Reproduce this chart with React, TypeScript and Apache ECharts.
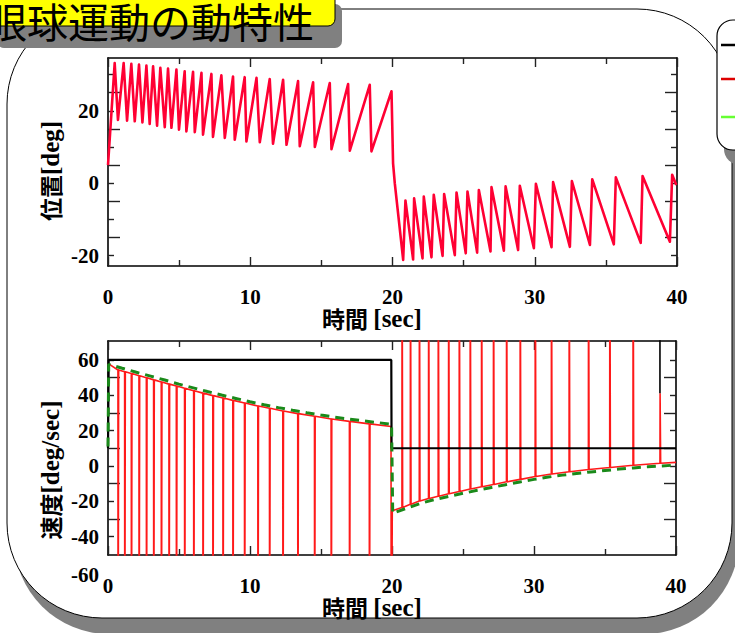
import React, { useEffect, useRef } from "react";
import * as echarts from "echarts";

const SERIF = '"Liberation Serif", "Times New Roman", serif';
const CJK = '"Noto Sans CJK JP", "Noto Sans", sans-serif';

// time axis [sec]
const TIME_MIN = 0;
const TIME_MAX = 40;
const TIME_STEP = 10;

// position axis [deg]
const POS_MIN = -22.9;
const POS_MAX = 34.6;
const POS_LABELS = [-20, 0, 20];
const POS_TICKS_SHORT = [-20, -10, 0, 10, 20, 30];
const POS_TICKS_LONG = [-15, -5, 5, 15, 25];

// velocity axis [deg/sec]
const VEL_MIN = -50.4;
const VEL_MAX = 70.7;
const VEL_LABELS = [-40, -20, 0, 20, 40, 60];
const VEL_TICKS_SHORT = [-40, -20, 0, 20, 40, 60];
const VEL_TICKS_LONG = [-30, -10, 10, 30, 50];
const VEL_EXTRA_LABEL = -60;

// 位置: slow climb, quick reset at the upper stop (0-20 s)
const posUpper: [number, number][] = [
  [0, 5.0],
  [0.47, 33.2], [0.70, 17.5],
  [1.10, 33.2], [1.34, 17.3],
  [1.64, 33.0], [1.88, 17.1],
  [2.18, 32.8], [2.42, 16.8],
  [2.70, 32.5], [2.93, 16.4],
  [3.17, 32.3], [3.45, 15.9],
  [3.68, 31.9], [3.99, 15.5],
  [4.22, 31.7], [4.46, 15.3],
  [4.81, 31.4], [4.99, 14.8],
  [5.39, 30.9], [5.51, 14.3],
  [5.98, 30.8], [6.10, 14.1],
  [6.57, 30.5], [6.68, 13.4],
  [7.27, 30.2], [7.38, 12.8],
  [7.97, 29.8], [8.21, 12.5],
  [8.79, 29.5], [8.91, 12.0],
  [9.61, 29.3], [9.73, 11.5],
  [10.44, 29.1], [10.67, 11.3],
  [11.37, 28.8], [11.60, 10.9],
  [12.31, 28.6], [12.55, 10.6],
  [13.36, 28.2], [13.48, 10.2],
  [14.42, 27.9], [14.54, 10.0],
  [15.59, 27.7], [15.71, 9.4],
  [16.88, 27.4], [17.00, 9.0],
  [18.40, 27.2], [18.52, 8.8],
  [19.93, 25.4],
];

// 位置: switch-over at 20 s, then bouncing on the lower stop (20-40 s)
const posLower: [number, number][] = [
  [20.04, 5.5], [20.16, 0.0],
  [20.75, -21.2], [20.91, -4.8],
  [21.45, -21.1], [21.52, -4.2],
  [22.11, -20.8], [22.20, -3.7],
  [22.74, -20.5], [22.90, -3.2],
  [23.52, -20.1], [23.63, -3.0],
  [24.38, -19.9], [24.50, -2.6],
  [25.15, -19.4], [25.27, -2.3],
  [25.95, -19.2], [26.07, -1.9],
  [26.89, -18.9], [26.96, -1.1],
  [27.83, -18.7], [27.95, -0.9],
  [28.83, -18.5], [28.95, -0.7],
  [29.94, -18.0], [30.08, -0.2],
  [31.18, -17.7], [31.29, 0.3],
  [32.47, -17.6], [32.61, 0.6],
  [33.88, -17.1], [34.04, 1.1],
  [35.56, -16.9], [35.70, 1.6],
  [37.45, -16.5], [37.58, 2.0],
  [39.50, -16.2], [39.66, 2.3],
  [39.95, -0.5],
];

// 速度 (red): spike instants and the level just before each spike
const velSpikeTimesA = [
  0.70, 1.17, 1.64, 2.18, 2.70, 3.21, 3.75, 4.29, 4.81, 5.39, 6.03, 6.68,
  7.38, 8.09, 8.79, 9.61, 10.55, 11.37, 12.31, 13.36, 14.54, 15.71, 17.00, 18.40,
];
const velRedTopA = [
  54.3, 53.3, 52.3, 51.0, 49.9, 48.7, 47.5, 46.3, 45.2, 43.9, 42.6, 41.2,
  39.8, 38.4, 37.1, 35.6, 33.9, 32.6, 31.1, 29.6, 28.1, 26.6, 25.2, 23.8,
];
const velRedStart = 58.0;
const velRedSwitch: [number, number][] = [[19.93, 22.3], [20.02, -25.3]];
const velSpikeTimesB = [
  20.70, 21.29, 21.92, 22.57, 23.25, 23.98, 24.73, 25.50, 26.30, 27.14,
  28.06, 29.02, 30.08, 31.22, 32.47, 33.83, 35.33, 36.97, 38.87,
];
const velRedTopB = [
  -23.5, -21.7, -19.9, -18.4, -17.1, -15.7, -14.5, -13.1, -11.8, -10.5,
  -9.0, -7.6, -6.0, -4.6, -3.3, -2.0, -0.9, 0.4, 1.5,
];
const velSpikeReachB = [
  150, 150, 150, 150, 150, 150, 150, 150, 150, 150,
  150, 150, 150, 150, 150, 150, 150, 150, 41.1,
];
const velRedEnd: [number, number] = [40, 2.0];
const SPIKE_DOWN = -150;

// 速度 (green dashed)
const velGreen: [number, number][] = [
  [0, 11], [0.05, 57.5], [1, 55.3], [2, 53.0], [3, 50.8], [4, 48.6], [5, 46.3],
  [6, 44.2], [7, 42.1], [8, 40.1], [9, 38.2], [10, 36.3], [11, 34.6], [12, 33.0],
  [13, 31.5], [14, 30.1], [15, 28.8], [16, 27.6], [17, 26.5], [18, 25.5],
  [19, 24.5], [19.97, 23.6],
  [20.05, -26.8], [21, -24.0], [22, -21.2], [23, -19.0], [24, -17.2], [25, -15.5],
  [26, -13.8], [27, -12.2], [28, -10.6], [29, -9.1], [30, -7.6], [31, -6.3],
  [32, -5.2], [33, -4.3], [34, -3.4], [35, -2.6], [36, -1.8], [37, -1.1],
  [38, -0.5], [39, 0.0], [40, 0.5],
];

// 速度 (black): commanded level
const velBlack: [number, number][] = [
  [0, 10], [0.05, 60], [19.95, 60], [19.97, 10], [40, 10],
];
const velBlackSpike: [number, number][] = [[38.87, 41.1], [38.87, 150]];

function buildRedVelocity(): [number, number][] {
  const pts: [number, number][] = [[0, velRedStart]];
  velSpikeTimesA.forEach((t, i) => {
    const v = velRedTopA[i];
    pts.push([t, v], [t + 0.01, SPIKE_DOWN], [t + 0.05, v]);
  });
  pts.push(velRedSwitch[0], [velRedSwitch[0][0] + 0.02, SPIKE_DOWN], velRedSwitch[1]);
  velSpikeTimesB.forEach((t, i) => {
    const v = velRedTopB[i];
    pts.push([t, v], [t + 0.01, velSpikeReachB[i]], [t + 0.05, v]);
  });
  pts.push(velRedEnd);
  return pts;
}

const tickColor = "#222";

function timeAxis(grid: number, position: "top" | "bottom", labels: boolean) {
  return {
    type: "value",
    gridIndex: grid,
    position,
    min: TIME_MIN,
    max: TIME_MAX,
    interval: TIME_STEP,
    axisLine: { show: true, onZero: false, lineStyle: { color: "#000", width: 1.6 } },
    axisTick: { show: true, inside: true, length: 9, lineStyle: { color: tickColor, width: 1.4 } },
    minorTick: { show: true, splitNumber: 2, length: 6, lineStyle: { color: tickColor, width: 1.4 } },
    splitLine: { show: false },
    minorSplitLine: { show: false },
    axisLabel: {
      show: labels,
      margin: 20,
      fontFamily: SERIF,
      fontWeight: "bold",
      fontSize: 21,
      color: "#000",
    },
  };
}

function valueAxes(
  grid: number,
  min: number,
  max: number,
  labels: number[],
  shortTicks: number[],
  longTicks: number[]
) {
  const base = {
    type: "value",
    gridIndex: grid,
    min,
    max,
    splitLine: { show: false },
  };
  const mk = (position: "left" | "right", ticks: number[], len: number, line: boolean, withLabels: boolean) => ({
    ...base,
    position,
    axisLine: { show: line, onZero: false, lineStyle: { color: "#000", width: 1.6 } },
    axisTick: {
      show: true,
      inside: true,
      length: len,
      customValues: ticks,
      lineStyle: { color: tickColor, width: 1.4 },
    },
    axisLabel: withLabels
      ? {
          show: true,
          customValues: labels,
          margin: 9,
          fontFamily: SERIF,
          fontWeight: "bold",
          fontSize: 21,
          color: "#000",
        }
      : { show: false },
  });
  return [
    mk("left", shortTicks, 6, true, true),
    mk("left", longTicks, 12, false, false),
    mk("right", shortTicks, 6, true, false),
    mk("right", longTicks, 12, false, false),
  ];
}

function axisTitle(id: string, x: number, y: number, cjk: string, latin: string, rotate: boolean) {
  return {
    id,
    type: "text",
    x,
    y,
    rotation: rotate ? Math.PI / 2 : 0,
    z: 50,
    style: {
      text: `{c|${cjk}}{s|${latin}}`,
      align: "center",
      verticalAlign: "middle",
      rich: {
        c: { fontFamily: CJK, fontWeight: "bold", fontSize: 23, fill: "#000" },
        s: { fontFamily: SERIF, fontWeight: "bold", fontSize: 25, fill: "#000" },
      },
    },
  };
}

function decorations() {
  return [
    // outer rounded panel and its shadow
    { id: "panel-shadow", type: "rect", z: -100, shape: { x: 14, y: 25, width: 725, height: 609, r: 95 }, style: { fill: "#808080" } },
    { id: "panel", type: "rect", z: -99, shape: { x: 7, y: 9, width: 725, height: 609, r: 95 }, style: { fill: "#fff", stroke: "#000", lineWidth: 1 } },
    // title tab
    { id: "title-shadow", type: "rect", z: 60, shape: { x: -3, y: 4, width: 345, height: 44, r: 7 }, style: { fill: "#808080" } },
    { id: "title-box", type: "rect", z: 61, shape: { x: -10, y: -18, width: 345, height: 44, r: 7 }, style: { fill: "#ffff00", stroke: "#000", lineWidth: 1 } },
    {
      id: "title-text",
      type: "text",
      z: 62,
      x: -14,
      y: 20,
      style: { text: "眼球運動の動特性", fontFamily: CJK, fontSize: 41, fill: "#000", align: "left", verticalAlign: "middle" },
    },
    // legend box
    { id: "legend-shadow", type: "rect", z: 60, shape: { x: 724, y: 35, width: 60, height: 130, r: 16 }, style: { fill: "#808080" } },
    { id: "legend-box", type: "rect", z: 61, shape: { x: 717, y: 20, width: 60, height: 130, r: 16 }, style: { fill: "#fff", stroke: "#000", lineWidth: 1.2 } },
    { id: "legend-k", type: "line", z: 62, shape: { x1: 721, y1: 45, x2: 740, y2: 45 }, style: { stroke: "#000", lineWidth: 2.5 } },
    { id: "legend-r", type: "line", z: 62, shape: { x1: 721, y1: 79, x2: 740, y2: 79 }, style: { stroke: "#dd0000", lineWidth: 2.5 } },
    { id: "legend-g", type: "line", z: 62, shape: { x1: 721, y1: 117, x2: 740, y2: 117 }, style: { stroke: "#66ff33", lineWidth: 2.5 } },
    // axis titles
    axisTitle("pos-xname", 372, 318, "時間 ", "[sec]", false),
    axisTitle("vel-xname", 372, 607, "時間 ", "[sec]", false),
    axisTitle("pos-yname", 50, 171, "位置", "[deg]", true),
    axisTitle("vel-yname", 50, 470, "速度", "[deg/sec]", true),
  ];
}

function buildOption(extra: any[]) {
  return {
    animation: false,
    backgroundColor: "#fff",
    grid: [
      { left: 108, top: 58, width: 569, height: 208 },
      { left: 108, top: 341, width: 568, height: 214 },
    ],
    xAxis: [
      timeAxis(0, "bottom", true),
      timeAxis(0, "top", false),
      timeAxis(1, "bottom", true),
      timeAxis(1, "top", false),
    ],
    yAxis: [
      ...valueAxes(0, POS_MIN, POS_MAX, POS_LABELS, POS_TICKS_SHORT, POS_TICKS_LONG),
      ...valueAxes(1, VEL_MIN, VEL_MAX, VEL_LABELS, VEL_TICKS_SHORT, VEL_TICKS_LONG),
    ],
    series: [
      {
        name: "位置",
        type: "line",
        xAxisIndex: 0,
        yAxisIndex: 0,
        data: [...posUpper, ...posLower],
        showSymbol: false,
        clip: true,
        lineStyle: { color: "#ff0033", width: 2.6, join: "round" },
      },
      {
        name: "速度",
        type: "line",
        xAxisIndex: 2,
        yAxisIndex: 4,
        data: buildRedVelocity(),
        showSymbol: false,
        clip: true,
        lineStyle: { color: "#ff1a1a", width: 1.6 },
      },
      {
        name: "指令",
        type: "line",
        xAxisIndex: 2,
        yAxisIndex: 4,
        data: velBlack,
        showSymbol: false,
        clip: true,
        lineStyle: { color: "#000", width: 2.2 },
      },
      {
        name: "指令2",
        type: "line",
        xAxisIndex: 2,
        yAxisIndex: 4,
        data: velBlackSpike,
        showSymbol: false,
        clip: true,
        lineStyle: { color: "#000", width: 1.6 },
      },
      {
        name: "推定",
        type: "line",
        xAxisIndex: 2,
        yAxisIndex: 4,
        data: velGreen,
        showSymbol: false,
        clip: true,
        lineStyle: { color: "#1a8a1a", width: 3, type: [9, 6] },
      },
    ],
    graphic: { elements: [...decorations(), ...extra] },
  };
}

export default function App() {
  const ref = useRef<HTMLDivElement>(null);
  useEffect(() => {
    const el = ref.current;
    if (!el) return;
    const chart = echarts.init(el, undefined, { renderer: "svg" });
    chart.setOption(buildOption([]) as any);
    const yPix = chart.convertToPixel({ yAxisIndex: 4 } as any, VEL_EXTRA_LABEL) as unknown as number;
    const extraLabel = {
      id: "vel-extra-label",
      type: "text",
      z: 50,
      x: 99,
      y: yPix + 3,
      style: {
        text: String(VEL_EXTRA_LABEL),
        fontFamily: SERIF,
        fontWeight: "bold",
        fontSize: 21,
        fill: "#000",
        align: "right",
        verticalAlign: "middle",
      },
    };
    chart.setOption(buildOption([extraLabel]) as any, true);
    return () => chart.dispose();
  }, []);
  return (
    <div
      ref={ref}
      style={{ position: "fixed", left: 0, top: 0, width: 735, height: 633, background: "#fff" }}
    />
  );
}
